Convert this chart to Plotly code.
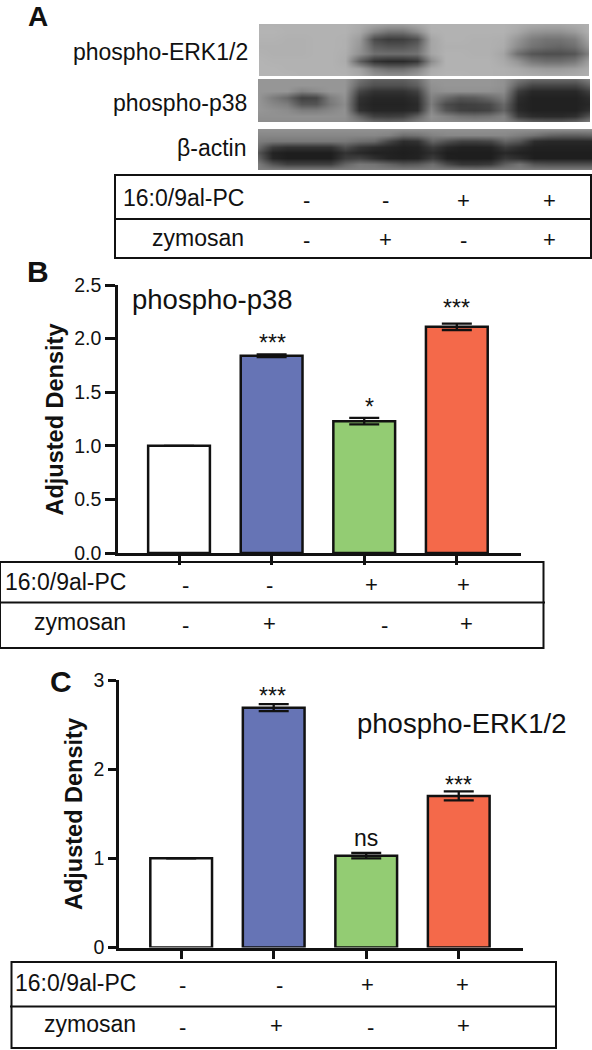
import plotly.graph_objects as go

W, H = 592, 1050
conditions = [0, 1, 2, 3]
bar_colors = ["#FFFFFF", "#6674B5", "#93CC73", "#F4694A"]

p38_values = [1.0, 1.84, 1.23, 2.11]
p38_errors = [0, 0.012, 0.03, 0.03]
p38_sig = ["***", "*", "***"]

erk_values = [1.0, 2.69, 1.03, 1.70]
erk_errors = [0, 0.04, 0.03, 0.05]

p38_ticks = [0, 0.5, 1.0, 1.5, 2.0, 2.5]
p38_ticktext = ["0.0", "0.5", "1.0", "1.5", "2.0", "2.5"]
erk_ticks = [0, 1, 2, 3]

pc_row = ["-", "-", "+", "+"]
zym_row = ["-", "+", "-", "+"]

blot_erk = [
 [178,178,178,178,178,178,178,172,165,160,160,168,178,178,178,178,178,178,174,170,168,168,172,176],
 [180,180,178,178,178,178,178,168,135,115,115,140,176,178,178,178,178,178,168,150,145,145,155,176],
 [178,178,176,176,178,178,176,155,75,60,62,80,165,178,178,176,176,174,150,125,115,115,125,166],
 [176,176,176,176,178,178,176,150,95,85,85,100,165,176,176,176,176,172,140,115,105,100,110,150],
 [178,176,176,176,178,178,174,145,112,110,110,115,165,178,178,176,176,165,112,85,78,78,85,130],
 [180,178,178,178,178,178,172,95,50,42,42,55,140,178,178,178,178,170,150,120,110,110,120,160],
 [180,180,178,178,178,178,176,162,125,110,110,130,170,178,178,178,178,176,170,160,155,155,160,172],
 [180,180,180,178,178,178,178,170,150,145,145,155,176,180,180,178,178,176,174,172,170,170,172,176],
]
blot_p38 = [
 [150,150,150,150,150,150,150,115,95,95,95,110,150,150,150,150,150,145,120,105,105,105,105,130],
 [150,150,150,150,150,150,150,100,80,80,80,95,145,150,150,150,150,145,95,70,70,70,70,100],
 [150,150,150,130,140,150,150,70,50,50,50,65,140,145,145,145,145,140,60,40,40,40,40,65],
 [150,125,105,65,70,125,145,50,38,38,38,48,130,105,85,90,105,125,45,33,33,33,33,45],
 [150,135,125,85,85,120,140,45,35,35,35,42,125,75,62,65,72,105,40,33,33,33,33,40],
 [150,145,140,125,125,135,145,50,38,38,38,45,135,85,65,62,68,100,42,33,33,33,33,48],
 [145,145,145,145,145,145,145,100,65,62,65,95,145,130,115,110,115,130,60,45,42,42,48,85],
 [140,140,140,140,140,140,140,130,110,105,110,130,140,140,140,140,140,135,115,100,95,95,105,130],
]
blot_actin = [
 [145,145,145,145,145,145,145,145,145,145,145,145,145,145,145,145,145,145,145,145,145,145,145,145],
 [135,135,135,135,135,135,135,135,135,130,110,115,130,135,135,135,135,135,125,115,100,95,95,100],
 [125,120,120,120,120,120,120,110,105,70,45,50,100,80,65,65,70,100,85,45,40,40,40,40],
 [110,60,50,50,50,50,80,55,45,38,33,35,60,40,33,33,35,60,45,33,33,33,33,33],
 [85,35,30,30,30,30,50,40,33,33,30,33,45,30,30,30,30,40,33,30,30,30,30,30],
 [100,38,30,30,30,30,60,65,48,35,32,35,60,32,30,30,30,55,45,30,30,30,30,30],
 [125,85,65,65,65,65,100,120,115,100,85,90,110,75,55,55,60,95,115,85,80,80,80,80],
 [130,130,130,130,130,130,130,130,130,130,130,130,130,130,130,125,130,130,130,130,130,130,130,130],
]

def px(x): return x / W
def py(y): return 1 - y / H

INK = "#111111"
FONT = "Liberation Sans"
LW = 2.5
fig = go.Figure()
annotations, shapes = [], []

def text(x, y, s, size=23, anchor="center", bold=False, angle=0):
    annotations.append(dict(
        x=px(x), y=py(y), xref="paper", yref="paper", text=f"<b>{s}</b>" if bold else s,
        showarrow=False, xanchor=anchor, yanchor="middle", textangle=angle, borderpad=0,
        font=dict(family=FONT, size=size, color=INK)))

def blot(z, n, x0, x1, y0, y1):
    fig.add_trace(go.Heatmap(z=z, xaxis=f"x{n}", yaxis=f"y{n}", zmin=0, zmax=255, zsmooth="best",
                             colorscale=[[0, "black"], [1, "white"]], showscale=False, hoverinfo="skip"))
    fig.update_layout({
        f"xaxis{n}": dict(domain=[px(x0), px(x1)], visible=False, anchor=f"y{n}", constrain="domain",
                          range=[0, len(z[0]) - 1]),
        f"yaxis{n}": dict(domain=[py(y1), py(y0)], visible=False, anchor=f"x{n}",
                          range=[len(z) - 1, 0]),
    })

def chart(n, values, errors, ticks, ticktext, xd, yd, ymax, xrange, ticklen, xticklen):
    fig.add_trace(go.Bar(
        x=conditions, y=values, width=0.667, xaxis=f"x{n}" if n > 1 else "x", yaxis=f"y{n}" if n > 1 else "y",
        marker=dict(color=bar_colors, line=dict(color=INK, width=LW)),
        error_y=dict(type="data", array=errors, visible=True, color=INK, thickness=2.3, width=15),
        hoverinfo="skip"))
    sx = f"xaxis{n}" if n > 1 else "xaxis"
    sy = f"yaxis{n}" if n > 1 else "yaxis"
    fig.update_layout({
        sx: dict(domain=[px(xd[0]), px(xd[1])], range=xrange, anchor=f"y{n}" if n > 1 else "y",
                 tickvals=conditions, ticktext=[""] * 4, ticks="outside", ticklen=xticklen, tickwidth=LW,
                 tickcolor=INK, showline=True, linecolor=INK, linewidth=LW, showgrid=False, zeroline=False),
        sy: dict(domain=[py(yd[1]), py(yd[0])], range=[0, ymax], anchor=f"x{n}" if n > 1 else "x",
                 tickvals=ticks, ticktext=ticktext, ticks="outside", ticklen=ticklen, tickwidth=LW,
                 tickcolor=INK, showline=True, linecolor=INK, linewidth=LW, showgrid=False, zeroline=False,
                 tickfont=dict(family=FONT, size=19.5, color=INK)),
    })

def table(x0, x1, y0, y1, ymid, mid_x0, mid_x1, label_right, y_row1, y_row2, xs1, xs2):
    shapes.append(dict(type="rect", xref="paper", yref="paper", x0=px(x0), x1=px(x1), y0=py(y0), y1=py(y1),
                       line=dict(color=INK, width=2), fillcolor="rgba(0,0,0,0)"))
    shapes.append(dict(type="line", xref="paper", yref="paper", x0=px(mid_x0), x1=px(mid_x1), y0=py(ymid), y1=py(ymid),
                       line=dict(color=INK, width=2)))
    text(label_right, y_row1, "16:0/9al-PC", anchor="right")
    text(label_right, y_row2, "zymosan", anchor="right")
    for s, x in zip(pc_row, xs1):
        text(x, y_row1 + (2 if s == "+" else 3), s, size=22)
    for s, x in zip(zym_row, xs2):
        text(x, y_row2 + (1 if s == "+" else 3), s, size=22)

# Panel A
blot(blot_erk, 3, 259, 589, 24, 76)
blot(blot_p38, 4, 258, 590, 79, 122)
blot(blot_actin, 5, 258, 592, 129, 170)
text(38, 16.5, "A", size=28, bold=True)
text(249, 52, "phospho-ERK1/2", anchor="right")
text(248, 103, "phospho-p38", anchor="right")
text(247, 148, "β-actin", anchor="right")
table(115, 591, 175, 258, 219, 115, 591, 245, 198, 238, [306, 386, 463, 549], [306, 386, 463, 549])

# Panel B
chart(1, p38_values, p38_errors, p38_ticks, p38_ticktext, (118, 521), (285, 553), 2.5, [-0.659, 3.693], 10, 9)
text(38, 271, "B", size=30, bold=True)
text(212, 299, "phospho-p38", size=27.5)
text(54.5, 420, "Adjusted Density", size=23.5, bold=True, angle=-90)
for i, s in zip([1, 2, 3], p38_sig):
    text([0, 272, 369, 456.6][i], [0, 343, 407, 308][i], s, size=23)
table(0, 543.5, 562, 648, 602.5, 0, 545, 126.5, 582, 622, [185, 269, 371, 463], [185, 269, 384, 466])

# Panel C
chart(2, erk_values, erk_errors, erk_ticks, [str(t) for t in erk_ticks], (119, 522.5), (680, 947.5), 3,
      [-0.672, 3.689], 8, 9)
text(61.5, 681.5, "C", size=30, bold=True)
text(461, 723, "phospho-ERK1/2", size=27.5)
text(74, 814, "Adjusted Density", size=23.5, bold=True, angle=-90)
text(272.5, 696, "***", size=23)
text(366, 838, "ns", size=23)
text(458, 785, "***", size=23)
table(11.5, 556, 962, 1048, 1006.5, 10, 556, 137, 982.5, 1024, [182.6, 279.6, 367, 462], [182.6, 276.6, 370, 463.4])

fig.update_layout(width=W, height=H, margin=dict(l=0, r=0, t=0, b=0, autoexpand=False), autosize=False, showlegend=False,
                  paper_bgcolor="white", plot_bgcolor="rgba(0,0,0,0)", bargap=0.3,
                  annotations=annotations, shapes=shapes)
fig.write_html("out.html", config={"displayModeBar": False},
               post_script="document.body.style.margin='0';")
